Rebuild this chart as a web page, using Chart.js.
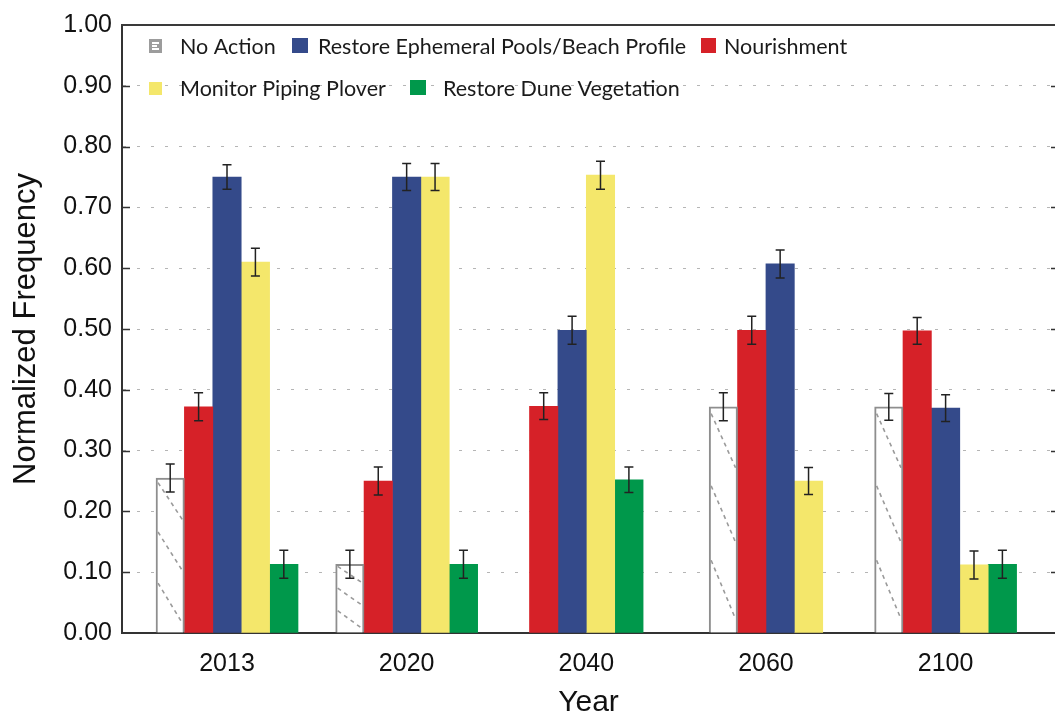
<!DOCTYPE html>
<html>
<head>
<meta charset="utf-8">
<script src="https://cdn.jsdelivr.net/npm/chart.js@4.4.1/dist/chart.umd.min.js"></script>
<style>
  html, body { margin: 0; padding: 0; background: #ffffff; }
  canvas { display: block; }
</style>
</head>
<body>
<canvas id="chart" width="1055" height="721"></canvas>
<script>
// Categories and tick labels
const years = ['2013', '2020', '2040', '2060', '2100'];
const yTickValues = [0, 0.1, 0.2, 0.3, 0.4, 0.5, 0.6, 0.7, 0.8, 0.9, 1.0];
const yTickLabels = ['0.00', '0.10', '0.20', '0.30', '0.40', '0.50', '0.60', '0.70', '0.80', '0.90', '1.00'];

// Series (bar order within each year); null = no bar that year
const seriesNames = ['No Action', 'Nourishment', 'Restore Ephemeral Pools/Beach Profile', 'Monitor Piping Plover', 'Restore Dune Vegetation'];
const noAction      = [0.255, 0.113, null,  0.372, 0.372];
const nourishment   = [0.372, 0.250, 0.373, 0.498, 0.497];
const restorePools  = [0.750, 0.750, 0.498, 0.607, 0.370];
const monitorPlover = [0.610, 0.750, 0.753, 0.250, 0.112];
const restoreDune   = [0.113, 0.113, 0.252, null,  0.113];

// Error bar half-lengths
const noActionErr      = [0.023, 0.023, null,  0.023, 0.022];
const nourishmentErr   = [0.023, 0.023, 0.022, 0.023, 0.022];
const restorePoolsErr  = [0.020, 0.022, 0.023, 0.023, 0.022];
const monitorPloverErr = [0.023, 0.022, 0.023, 0.022, 0.023];
const restoreDuneErr   = [0.023, 0.023, 0.021, null,  0.023];

// Legend order (indices into seriesNames)
const legendOrder = [0, 2, 1, 3, 4];

// Styling
const seriesColors = ['#ffffff', '#d62128', '#344a8a', '#f4e76b', '#00984b'];
const hatchBorder = '#8e8e8e';
const axisColor = '#333333';
const textColor = '#111111';
const numFont = 'Liberation Sans';
const legendFont = 'Lato';

const series = [noAction, nourishment, restorePools, monitorPlover, restoreDune];
const seriesErr = [noActionErr, nourishmentErr, restorePoolsErr, monitorPloverErr, restoreDuneErr];

// Legend slots: swatch box and text anchor
const legendSlots = [
  { bx: 149, by: 39, bw: 13, bh: 14, tx: 180, ty: 54 },
  { bx: 292, by: 38, bw: 16, bh: 15, tx: 318, ty: 54 },
  { bx: 701, by: 38, bw: 15, bh: 15, tx: 724, ty: 54 },
  { bx: 149, by: 82, bw: 13, bh: 13, tx: 180, ty: 96 },
  { bx: 410, by: 80, bw: 16, bh: 15, tx: 443, ty: 96 }
];

// Dashed diagonal hatching inside the "No Action" bars
const hatchPlugin = {
  id: 'hatch',
  afterDatasetDraw(chart, args) {
    if (args.index !== 0) return;
    const ctx = chart.ctx;
    const segs = [[0.03, 0.27], [0.35, 0.60], [0.68, 0.94]];
    ctx.save();
    ctx.strokeStyle = '#9a9a9a';
    ctx.lineWidth = 1.6;
    ctx.setLineDash([4, 4]);
    args.meta.data.forEach((bar, i) => {
      if (series[0][i] === null || series[0][i] === undefined) return;
      const p = bar.getProps(['x', 'y', 'base', 'width'], true);
      const l = p.x - p.width / 2 + 2, r = p.x + p.width / 2 - 2;
      const h = p.base - p.y;
      segs.forEach(([a, b]) => {
        ctx.beginPath();
        ctx.moveTo(l, p.y + h * a);
        ctx.lineTo(r, p.y + h * b);
        ctx.stroke();
      });
    });
    ctx.restore();
  }
};

// Error bars with caps
const errorBarPlugin = {
  id: 'errorBars',
  afterDatasetsDraw(chart) {
    const ctx = chart.ctx;
    const yScale = chart.scales.y;
    ctx.save();
    ctx.strokeStyle = '#222222';
    ctx.lineWidth = 1.5;
    chart.data.datasets.forEach((ds, k) => {
      const meta = chart.getDatasetMeta(k);
      meta.data.forEach((bar, i) => {
        const v = series[k][i], e = seriesErr[k][i];
        if (v === null || e === null) return;
        const x = bar.x;
        const yTop = yScale.getPixelForValue(v + e);
        const yBot = yScale.getPixelForValue(v - e);
        const cap = 4.5;
        ctx.beginPath();
        ctx.moveTo(x, yTop); ctx.lineTo(x, yBot);
        ctx.moveTo(x - cap, yTop); ctx.lineTo(x + cap, yTop);
        ctx.moveTo(x - cap, yBot); ctx.lineTo(x + cap, yBot);
        ctx.stroke();
      });
    });
    ctx.restore();
  }
};

// Frame top line, inward tick marks, and the legend inside the plot
const framePlugin = {
  id: 'frame',
  afterDraw(chart) {
    const ctx = chart.ctx;
    const a = chart.chartArea;
    const yScale = chart.scales.y;
    ctx.save();
    ctx.strokeStyle = '#3a3a3a';
    ctx.lineWidth = 2;
    ctx.beginPath();
    ctx.moveTo(a.left - 1, a.top);
    ctx.lineTo(a.right, a.top);
    ctx.stroke();

    ctx.lineWidth = 1.5;
    ctx.strokeStyle = axisColor;
    yTickValues.forEach(v => {
      if (v <= 0 || v >= 1) return;
      const y = Math.round(yScale.getPixelForValue(v)) + 0.5;
      ctx.beginPath();
      ctx.moveTo(a.left, y); ctx.lineTo(a.left + 8, y);
      ctx.moveTo(a.right - 4, y); ctx.lineTo(a.right, y);
      ctx.stroke();
    });

    // legend
    ctx.font = '21.5px "' + legendFont + '"';
    ctx.textAlign = 'left';
    ctx.textBaseline = 'alphabetic';
    legendOrder.forEach((k, j) => {
      const s = legendSlots[j];
      if (k === 0) {
        ctx.fillStyle = '#9c9c9c';
        ctx.fillRect(s.bx, s.by, s.bw, s.bh);
        ctx.fillStyle = '#ffffff';
        ctx.fillRect(s.bx + 3, s.by + 3, s.bw - 6, 2);
        ctx.fillRect(s.bx + 3, s.by + 6, s.bw - 8, 2);
        ctx.fillRect(s.bx + 3, s.by + 9, s.bw - 6, 2);
      } else {
        ctx.fillStyle = seriesColors[k];
        ctx.fillRect(s.bx, s.by, s.bw, s.bh);
      }
      ctx.fillStyle = '#1a1a1a';
      ctx.fillText(seriesNames[k], s.tx, s.ty);
    });
    ctx.restore();
  }
};

function build() {
  const datasets = series.map((vals, k) => ({
    label: seriesNames[k],
    data: vals.map((v, i) => ({ x: i, y: v })),
    backgroundColor: seriesColors[k],
    borderColor: k === 0 ? hatchBorder : seriesColors[k],
    borderWidth: k === 0 ? 2 : 0,
    barThickness: 28.4,
    skipNull: true
  }));

  new Chart(document.getElementById('chart'), {
    type: 'bar',
    data: { datasets },
    options: {
      responsive: false,
      animation: false,
      events: [],
      layout: { padding: { top: 17, right: 0, bottom: 0, left: 0 } },
      plugins: { legend: { display: false }, tooltip: { enabled: false } },
      scales: {
        x: {
          type: 'linear',
          offset: false,
          bounds: 'data',
          min: -0.5845,
          max: 4.609,
          afterBuildTicks: s => { s.ticks = years.map((_, i) => ({ value: i })); },
          afterFit: s => { s.height = 88; },
          ticks: {
            callback: v => years[v],
            autoSkip: false,
            maxRotation: 0,
            padding: 16,
            color: textColor,
            font: { family: numFont, size: 25 }
          },
          grid: { display: false, drawTicks: false, offset: false },
          border: { display: true, color: axisColor, width: 2 },
          title: {
            display: true,
            text: 'Year',
            color: textColor,
            font: { family: numFont, size: 30 },
            padding: { top: 0, bottom: 0 }
          }
        },
        y: {
          min: 0,
          max: 1,
          afterBuildTicks: s => { s.ticks = yTickValues.map(v => ({ value: v })); },
          afterFit: s => { s.width = 122; },
          ticks: {
            callback: (v, i) => yTickLabels[i],
            padding: 10,
            color: textColor,
            font: { family: numFont, size: 25 }
          },
          grid: {
            drawTicks: false,
            lineWidth: 1,
            color: c => (c.tick && (c.tick.value <= 0 || c.tick.value >= 1)) ? 'rgba(0,0,0,0)' : '#b5b5b5'
          },
          border: { display: true, color: axisColor, width: 2, dash: [3, 11] },
          title: {
            display: true,
            text: 'Normalized Frequency',
            color: textColor,
            font: { family: numFont, size: 31 },
            padding: { top: 8, bottom: 0 }
          }
        }
      }
    },
    plugins: [hatchPlugin, errorBarPlugin, framePlugin]
  });
}

Promise.all([
  document.fonts.load('25px "' + numFont + '"'),
  document.fonts.load('21.5px "' + legendFont + '"')
]).then(build, build);
</script>
</body>
</html>
